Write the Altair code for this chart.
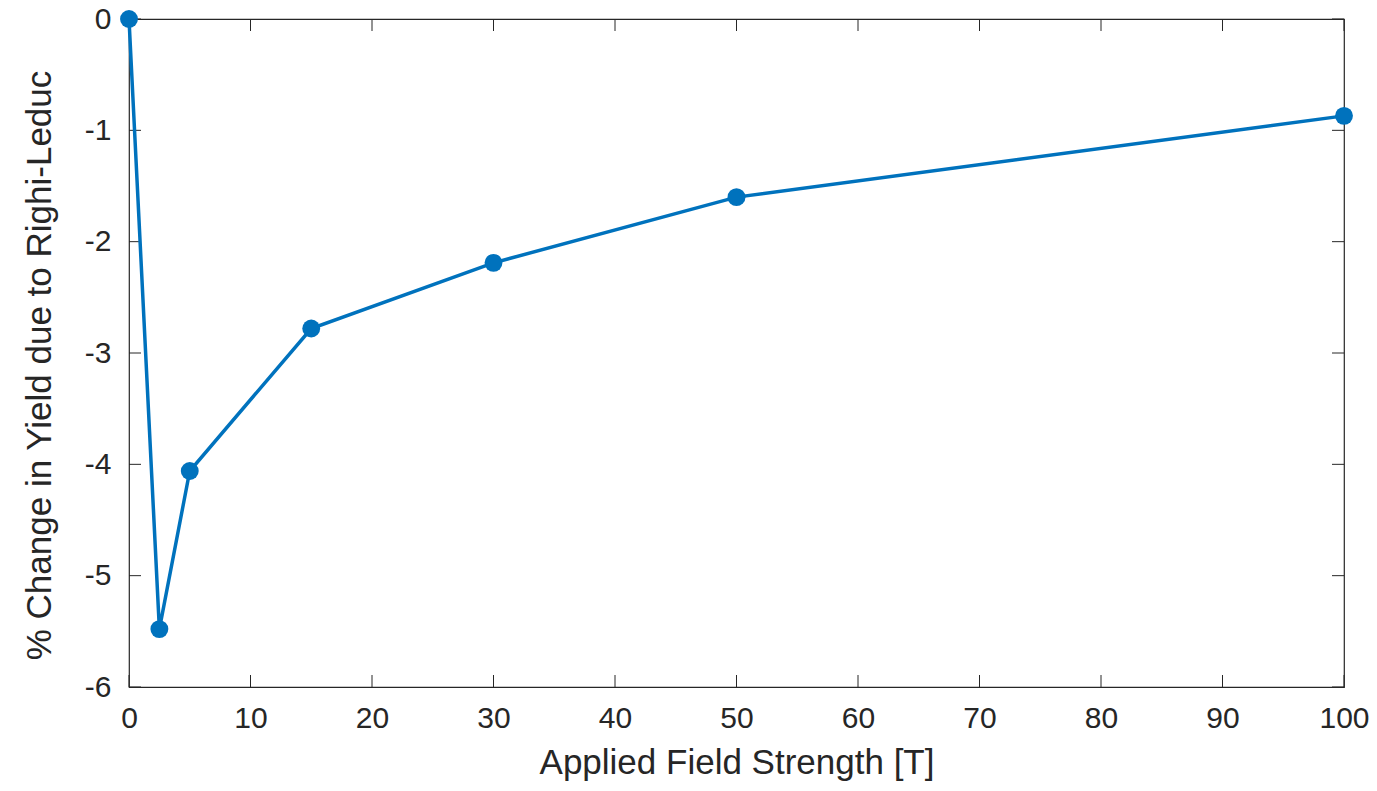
import altair as alt
import pandas as pd

field_T = [0, 2.5, 5, 15, 30, 50, 100]
pct_change = [0.0, -5.48, -4.06, -2.78, -2.19, -1.60, -0.87]
x_ticks = [0, 10, 20, 30, 40, 50, 60, 70, 80, 90, 100]
y_ticks = [0, -1, -2, -3, -4, -5, -6]

W, H = 1215, 668
TICK = 12
BLUE = "#0072BD"
DARK = "#262626"
FONT = "Liberation Sans"

df = pd.DataFrame({"x": field_T, "y": pct_change})
dx = pd.DataFrame({"x": x_ticks})
dy = pd.DataFrame({"y": y_ticks})

xs = alt.Scale(domain=[0, 100], nice=False, zero=False)
ys = alt.Scale(domain=[-6, 0], nice=False, zero=False)

common = dict(ticks=False, domain=False, grid=False, labelFlush=False,
              labelFont=FONT, titleFont=FONT, labelFontSize=30, titleFontSize=35,
              labelColor=DARK, titleColor=DARK, titleFontWeight="normal",
              labelExpr="datum.value")
xaxis = alt.Axis(values=x_ticks, title="Applied Field Strength [T]",
                 labelPadding=16, titlePadding=12, **common)
yaxis = alt.Axis(values=y_ticks, title="% Change in Yield due to Righi-Leduc",
                 labelPadding=18, titlePadding=27, titleY=346, **common)

line = alt.Chart(df).mark_line(color=BLUE, strokeWidth=3.5).encode(
    x=alt.X("x:Q", scale=xs, axis=xaxis),
    y=alt.Y("y:Q", scale=ys, axis=yaxis),
)
pts = alt.Chart(df).mark_point(filled=True, color=BLUE, size=320, opacity=1).encode(
    x=alt.X("x:Q", scale=xs), y=alt.Y("y:Q", scale=ys)
)

tb = alt.Chart(dx).mark_rule(color=DARK, strokeWidth=1).encode(
    x=alt.X("x:Q", scale=xs), y=alt.value(H), y2=alt.value(H - TICK))
tt = alt.Chart(dx).mark_rule(color=DARK, strokeWidth=1).encode(
    x=alt.X("x:Q", scale=xs), y=alt.value(0), y2=alt.value(TICK))
tl = alt.Chart(dy).mark_rule(color=DARK, strokeWidth=1).encode(
    y=alt.Y("y:Q", scale=ys), x=alt.value(0), x2=alt.value(TICK))
tr = alt.Chart(dy).mark_rule(color=DARK, strokeWidth=1).encode(
    y=alt.Y("y:Q", scale=ys), x=alt.value(W), x2=alt.value(W - TICK))

chart = alt.layer(tb, tt, tl, tr, line, pts).properties(
    width=W, height=H,
    autosize=alt.AutoSizeParams(type="none"),
    padding={"left": 121, "top": 11, "right": 25, "bottom": 96},
).configure_view(
    stroke=DARK, strokeWidth=1.2
)

chart.save("out.html", embed_options={"renderer": "svg", "actions": False})
